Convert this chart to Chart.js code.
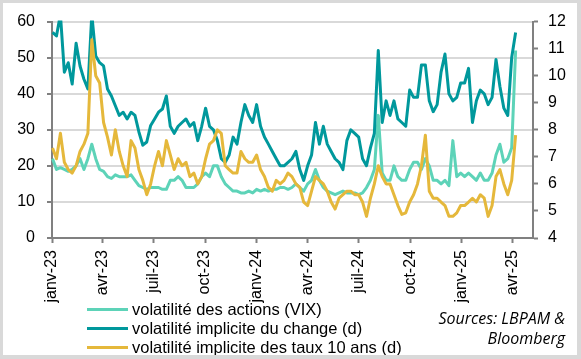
<!DOCTYPE html>
<html><head><meta charset="utf-8">
<script src="https://cdn.jsdelivr.net/npm/chart.js@4.4.1/dist/chart.umd.min.js"></script>
<style>
html,body{margin:0;padding:0;background:#fff;}
#wrap{position:relative;width:581px;height:359px;overflow:hidden;background:#fff;}
#c{position:absolute;left:0;top:0;}
#frame{position:absolute;left:0;top:0;width:581px;height:359px;box-sizing:border-box;border:3px solid #d9d9d9;border-right-width:4px;border-bottom-width:4px;pointer-events:none;}
#legend{position:absolute;left:87px;top:300px;font-family:'Liberation Sans',Arial,sans-serif;font-size:16.5px;color:#000;}
.item{display:flex;align-items:center;height:19px;white-space:nowrap;}
.swatch{width:41px;height:3px;margin-right:4px;}
#src{position:absolute;right:16px;top:308px;text-align:right;font-family:'Open Sans',sans-serif;font-style:italic;font-size:16px;line-height:20px;color:#000;white-space:nowrap;}
</style></head><body>
<div id="wrap"><canvas id="c" width="581" height="359"></canvas><div id="legend"></div><div id="src">Sources: LBPAM &amp;<br>Bloomberg</div><div id="frame"></div></div>
<script>
// Weekly observations starting Monday 2023-01-02
const startDate = [2023, 0, 2];
const stepDays = 7;

const seriesNames = [
  "volatilité des actions (VIX)",
  "volatilité implicite du change (d)",
  "volatilité implicite des taux 10 ans (d)"
];

// Left axis
const vix = [22,19,19.5,19,18.5,19,20,22,19,22,
  26,22,19,18.5,17,16.5,17.5,17,17,17,
  17.5,16,14.5,14,13.5,14,14,14,13.5,13.5,
  16,16,17,16,14,14,14,15,17,18,
  17,20,20,17,15,14,13,13,12.5,12.5,
  13,12.5,13.5,13,13.5,13,13.5,13.5,14,14,
  13.5,14,15,14,13,15,16,19,16,14,
  13,12.5,12,12.5,13,12.5,12.5,12.5,12,12.5,
  14,16,19,34,18,16,16,20,17,16,
  16,19,21,21,19,22,20,16,16,15,
  16,14.5,27,17,18,17,18,17,16,18,
  16,16,18,23,26,21,22,25,52];

// Right axis
const fxVol = [11.6,11.47,12.27,10.13,10.48,9.69,11.2,10.36,9.87,9.51,
  12.27,10.73,10.48,10.36,9.51,9.25,8.89,8.53,8.65,8.4,
  8.65,8.53,7.92,7.43,7.55,8.16,8.4,8.65,8.77,9.25,
  8.13,7.87,8.13,8.27,8.4,8.13,8.27,7.6,8.13,8.8,
  8.13,8.0,7.6,6.93,6.8,7.07,7.73,7.47,8.27,8.93,
  8.53,8.27,8.93,8.13,7.73,7.47,7.2,6.93,6.67,6.67,
  6.8,6.93,7.2,6.53,6.13,6.67,7.07,8.27,7.47,8.13,
  7.47,7.2,6.93,6.8,6.53,7.6,8.0,7.87,7.73,6.93,
  6.67,7.33,7.87,10.93,8.27,9.07,8.53,9.07,8.4,8.27,
  8.13,9.47,9.2,9.2,10.4,10.4,9.07,8.67,8.93,10.13,
  10.8,9.33,9.07,9.2,9.73,9.73,10.27,8.27,9.07,9.47,
  9.33,8.93,9.2,10.6,9.6,8.8,8.53,10.67,11.6];

const rateVol = [7.33,6.93,7.87,6.8,6.53,6.4,6.67,7.2,7.47,7.87,
  11.33,10.0,9.73,8.27,7.73,7.07,8.0,7.2,6.67,6.27,
  7.6,7.33,6.53,6.13,5.6,6.0,6.67,7.2,6.67,7.6,
  7.07,6.53,6.93,6.67,6.8,6.27,6.4,6.0,6.27,6.93,
  7.47,7.6,8.0,7.87,6.67,6.53,6.4,6.4,7.2,6.93,
  6.8,6.8,7.07,6.53,6.27,5.87,5.73,6.13,6.0,6.13,
  6.4,6.27,6.0,5.87,5.33,5.2,5.73,6.27,6.13,6.0,
  5.73,5.33,5.07,5.47,5.6,5.73,5.73,5.6,5.6,5.33,
  4.8,5.47,6.0,6.67,6.27,6.0,6.0,5.6,5.2,4.87,
  4.93,5.33,5.6,6.0,6.67,7.8,5.73,5.47,5.47,5.33,
  5.2,4.8,4.8,4.93,5.2,5.2,5.33,5.47,5.33,5.6,
  5.47,4.8,5.2,6.27,6.53,6.0,5.6,6.13,7.8];

const tickDates = [[2023,0,1],[2023,3,1],[2023,6,1],[2023,9,1],[2024,0,1],[2024,3,1],[2024,6,1],[2024,9,1],[2025,0,1],[2025,3,1]];
const tickLabels = ["janv-23","avr-23","juil-23","oct-23","janv-24","avr-24","juil-24","oct-24","janv-25","avr-25"];
const axisEnd = [2025, 4, 8];

const colors = ["#5DD3B8", "#00989C", "#E5B83B"];

const DAY = 86400000;
const origin = Date.UTC(2023, 0, 1);
const toDay = d => (Date.UTC(d[0], d[1], d[2]) - origin) / DAY;
const firstDay = toDay(startDate);
const xs = vix.map((_, i) => firstDay + i * stepDays);
const tickDays = tickDates.map(toDay);
const fam = "'Liberation Sans', Arial, sans-serif";

function pts(arr){ return arr.map((v,i)=>({x: xs[i], y: v})); }

const ds = [
  {label: seriesNames[0], data: pts(vix), yAxisID: 'yL', borderColor: colors[0], order: 3},
  {label: seriesNames[1], data: pts(fxVol), yAxisID: 'yR', borderColor: colors[1], order: 2},
  {label: seriesNames[2], data: pts(rateVol), yAxisID: 'yR', borderColor: colors[2], order: 1}
].map(d => Object.assign(d, {borderWidth: 3, pointRadius: 0, tension: 0, fill: false, clip: 1, borderJoinStyle: 'round'}));

const chart = new Chart(document.getElementById('c'), {
  type: 'line',
  data: {datasets: ds},
  options: {
    responsive: false, animation: false,
    layout: {padding: {top: 20, left: 0, right: 0, bottom: 0}},
    plugins: {legend: {display: false}, tooltip: {enabled: false}},
    scales: {
      x: {
        type: 'linear', min: 0, max: toDay(axisEnd),
        afterBuildTicks: s => { s.ticks = tickDays.map(v => ({value: v})); },
        afterFit: s => { s.height = 121; },
        ticks: {autoSkip: false, maxRotation: 90, minRotation: 90, padding: 7, color: '#000',
          font: {size: 16, family: fam},
          callback: v => tickLabels[tickDays.indexOf(v)] || ''},
        grid: {display: true, drawOnChartArea: false, drawTicks: true, tickLength: 5, tickColor: '#808080', tickWidth: 2},
        border: {color: '#808080', width: 2}
      },
      yL: {
        position: 'left', min: 0, max: 60,
        afterFit: s => { s.width = 52; },
        ticks: {stepSize: 10, padding: 12, color: '#000', font: {size: 16, family: fam}},
        grid: {color: '#d9d9d9', lineWidth: 2, tickColor: '#808080', tickLength: 5, tickWidth: 2},
        border: {color: '#808080', width: 2}
      },
      yR: {
        position: 'right', min: 4, max: 12,
        afterFit: s => { s.width = 48; },
        ticks: {stepSize: 1, padding: 10, color: '#000', font: {size: 16, family: fam}},
        grid: {drawOnChartArea: false, tickColor: '#808080', tickLength: 5, tickWidth: 2},
        border: {color: '#808080', width: 2}
      }
    }
  }
});

const lg = document.getElementById('legend');
chart.data.datasets.forEach(d => {
  const it = document.createElement('div'); it.className = 'item';
  const sw = document.createElement('span'); sw.className = 'swatch'; sw.style.background = d.borderColor;
  const tx = document.createElement('span'); tx.textContent = d.label;
  it.appendChild(sw); it.appendChild(tx); lg.appendChild(it);
});
</script>
</body></html>
